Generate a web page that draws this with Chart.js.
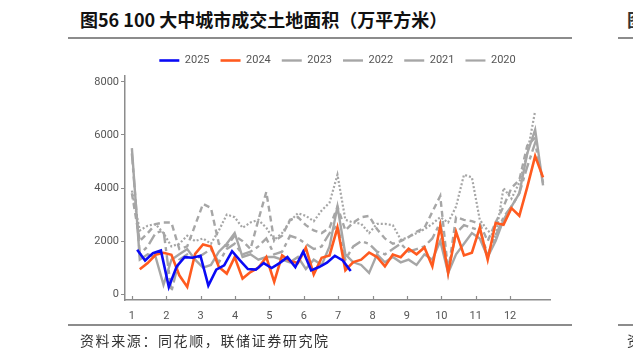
<!DOCTYPE html>
<html lang="zh">
<head>
    <meta charset="UTF-8">
    <title>100大中城市成交土地面积</title>
    <script src="https://cdn.jsdelivr.net/npm/chart.js@4.4.1/dist/chart.umd.min.js"></script>
    <style>
        body {
            margin: 0;
            width: 633px;
            height: 358px;
            background: #fff;
            position: relative;
            overflow: hidden;
            font-family: "Noto Sans CJK SC", sans-serif;
        }
        .title {
            position: absolute;
            left: 80px;
            top: 6px;
            font-size: 18px;
            font-weight: bold;
            color: #111;
            white-space: nowrap;
        }
        .rule {
            position: absolute;
            height: 2px;
            background: #8c8c8c;
        }
        .source {
            position: absolute;
            left: 80px;
            top: 330px;
            font-size: 14px;
            letter-spacing: 1.6px;
            color: #333;
            white-space: nowrap;
        }
        .frag {
            position: absolute;
            left: 627px;
            color: #333;
        }
        .chart-box {
            position: absolute;
            left: 60px;
            top: 44px;
            width: 510px;
            height: 282px;
        }
    </style>
</head>
<body>
    <div class="title">图56 100 大中城市成交土地面积（万平方米）</div>
    <div class="rule" style="left:68px; top:37px; width:504px;"></div>
    <div class="rule" style="left:618px; top:37px; width:20px;"></div>
    <div class="frag" style="top:6px; font-size:18px; font-weight:bold;">图</div>
    <div class="chart-box"><canvas id="landChart"></canvas></div>
    <div class="rule" style="left:68px; top:324px; width:504px;"></div>
    <div class="rule" style="left:618px; top:324px; width:20px;"></div>
    <div class="source">资料来源：同花顺，联储证券研究院</div>
    <div class="frag" style="top:330px; font-size:14px;">资</div>

    <script>
        // weekly values, 万平方米
        const years = ['2025', '2024', '2023', '2022', '2021', '2020'];
        const startDay = [4.7, 7, 0, 0, 0, 0]; // day offset of first week in each year

        const v2025 = [1670, 1270, 1545, 1645, 273, 1047, 1395, 1370, 1447, 325,
            924, 1085, 1620, 1270, 946, 924, 1170, 984, 1170, 1395,
            1021, 1608, 898, 1021, 1185, 1447, 1270, 871];
        const v2024 = [935, 1170, 1485, 1560, 1485, 710, 273, 1520, 1870, 1795,
            1021, 774, 1395, 587, 834, 998, 1395, 460, 1458, 1245,
            1170, 1747, 748, 1372, 1458, 2510, 900, 1210, 1300, 1570,
            1400, 1047, 1496, 1395, 1709, 1500, 1760, 1047, 2570, 800,
            2350, 1458, 1560, 2510, 1300, 2680, 2618, 3240, 2955, 4030,
            5200, 4400];
        const v2023 = [5500, 1300, 1500, 1400, 350, 1300, 1500, 1700, 1300, 1000,
            1100, 1600, 1900, 2300, 1400, 1500, 1300, 1400, 1400, 1300,
            1200, 1400, 950, 1300, 1100, 1800, 3300, 1500, 1200, 1100,
            800, 1500, 1200, 1400, 1200, 1300, 1100, 1500, 1300, 2000,
            800, 1500, 1900, 2300, 2100, 1400, 2000, 2800, 3300, 3800,
            5300, 6200, 4100];
        const v2022 = [5300, 1500, 1800, 2300, 2400, 100, 1300, 1500, 1300, 1500,
            1700, 1200, 1700, 1900, 1500, 1600, 1800, 2100, 1500, 1600,
            2200, 2100, 1900, 1700, 1800, 2300, 2600, 1300, 1800, 2000,
            1900, 1600, 1500, 1700, 1900, 1600, 1700, 1800, 2100, 2700,
            900, 2300, 2600, 2500, 2400, 1500, 2200, 2900, 3300, 3800,
            4800, 5700, 4200];
        const v2021 = [3800, 2000, 2300, 2640, 2700, 2700, 1700, 1800, 2600, 3400,
            3250, 1900, 1800, 2200, 2000, 1700, 2800, 3850, 2000, 2200,
            2800, 2900, 2600, 2400, 2300, 2500, 3300, 2400, 2700, 2900,
            2950, 2450, 2100, 1900, 2000, 2150, 2350, 2500, 3100, 3700,
            850, 2900, 2800, 2750, 2650, 2000, 2700, 3300, 4000, 4300,
            5600, 5900];
        const v2020 = [3900, 2400, 2580, 2640, 2300, 1800, 1900, 2200, 2000, 2100,
            1900, 2400, 3000, 2900, 2500, 2700, 2800, 2500, 2050, 2300,
            2750, 3050, 2950, 2750, 3150, 3450, 4500, 2800, 2700, 2650,
            2300, 2650, 2650, 2600, 2050, 2150, 2300, 2450, 2650, 2900,
            2700, 3300, 4500, 4400, 2800, 2400, 2150, 4000, 3600, 4200,
            5300, 6900];

        const monthTicks = [1, 2, 3, 4, 5, 6, 7, 8, 9, 10, 11, 12];
        const yTicks = [0, 2000, 4000, 6000, 8000];

        const seriesValues = [v2025, v2024, v2023, v2022, v2021, v2020];
        const colors = ['#0a0af5', '#ff5a1f', '#a6a6a6', '#a6a6a6', '#a6a6a6', '#a6a6a6'];
        const dashes = [[], [], [], [11, 4, 4, 4], [6, 4], [2, 2]];
        const widths = [2.6, 2.6, 2.4, 2.4, 2.4, 2.2];

        // week i of a year -> position on the month axis
        function toPoints(values, start) {
            return values.map((v, i) => ({ x: 1 + (start + 7 * i) / 30.44, y: v }));
        }

        const datasets = years.map((y, k) => ({
            label: y,
            data: toPoints(seriesValues[k], startDay[k]),
            borderColor: colors[k],
            backgroundColor: colors[k],
            borderWidth: widths[k],
            borderDash: dashes[k],
            pointRadius: 0,
            pointStyle: 'line',
            tension: 0
        }));

        // x ticks drawn pointing up into the plot
        const innerTicks = {
            id: 'innerTicks',
            afterDraw(chart) {
                const ctx = chart.ctx;
                const xs = chart.scales.x;
                const bottom = chart.chartArea.bottom;
                ctx.save();
                ctx.strokeStyle = '#8c8c8c';
                ctx.lineWidth = 1.2;
                monthTicks.forEach(m => {
                    const px = Math.round(xs.getPixelForValue(m)) + 0.5;
                    ctx.beginPath();
                    ctx.moveTo(px, bottom);
                    ctx.lineTo(px, bottom - 4);
                    ctx.stroke();
                });
                ctx.restore();
            }
        };

        new Chart(document.getElementById('landChart'), {
            type: 'line',
            data: { datasets: datasets },
            plugins: [innerTicks],
            options: {
                responsive: true,
                maintainAspectRatio: false,
                animation: false,
                layout: { padding: { left: 0, right: 20, top: 0, bottom: 0 } },
                plugins: {
                    legend: {
                        position: 'top',
                        fullSize: false,
                        labels: {
                            usePointStyle: true,
                            pointStyleWidth: 20,
                            boxHeight: 11,
                            padding: 11,
                            color: '#555',
                            font: { family: 'Roboto, "Noto Sans", sans-serif', size: 11 }
                        }
                    },
                    tooltip: { enabled: false }
                },
                scales: {
                    x: {
                        type: 'linear',
                        min: 0.8,
                        max: 13.16,
                        afterBuildTicks: s => { s.ticks = monthTicks.map(v => ({ value: v })); },
                        afterFit: s => { s.height = 26; },
                        grid: { display: false },
                        border: { display: true, color: '#8c8c8c', width: 1.5 },
                        ticks: {
                            padding: 2,
                            color: '#555',
                            maxRotation: 0,
                            font: { family: 'Roboto, "Noto Sans", sans-serif', size: 11 }
                        }
                    },
                    y: {
                        min: -220,
                        max: 8220,
                        afterBuildTicks: s => { s.ticks = yTicks.map(v => ({ value: v })); },
                        afterFit: s => { s.width = 65; },
                        grid: {
                            drawOnChartArea: false,
                            drawTicks: true,
                            tickLength: 4,
                            color: '#8c8c8c'
                        },
                        border: { display: true, color: '#8c8c8c', width: 1.5 },
                        ticks: {
                            padding: 2,
                            color: '#555',
                            callback: v => String(v),
                            font: { family: 'Roboto, "Noto Sans", sans-serif', size: 11 }
                        }
                    }
                }
            }
        });
    </script>
</body>
</html>
